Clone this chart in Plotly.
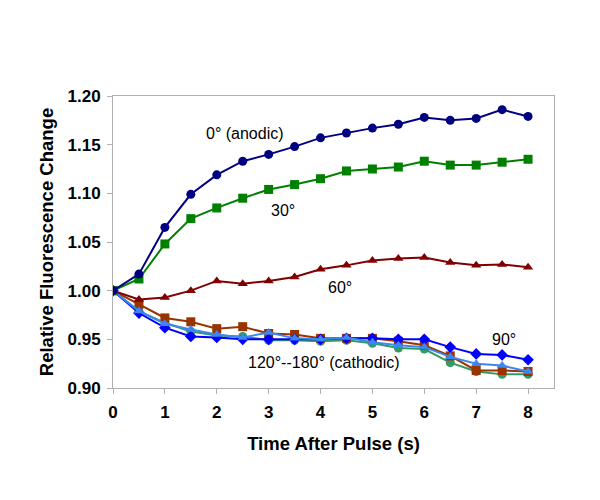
import plotly.graph_objects as go

# temps apres l'impulsion (s)
time_s = [0, 0.5, 1, 1.5, 2, 2.5, 3, 3.5, 4, 4.5, 5, 5.5, 6, 6.5, 7, 7.5, 8]

# fluorescence relative par angle
deg0 = [1.000, 1.017, 1.065, 1.099, 1.119, 1.133, 1.140, 1.148, 1.157, 1.162,
        1.167, 1.171, 1.178, 1.175, 1.177, 1.186, 1.179]
deg30 = [1.000, 1.012, 1.048, 1.074, 1.085, 1.095, 1.104, 1.109, 1.115, 1.123,
         1.125, 1.127, 1.133, 1.129, 1.129, 1.132, 1.135]
deg60 = [1.000, 0.991, 0.993, 1.000, 1.010, 1.007, 1.010, 1.014, 1.022, 1.026,
         1.031, 1.033, 1.034, 1.029, 1.026, 1.027, 1.024]
deg90 = [1.000, 0.977, 0.962, 0.953, 0.952, 0.950, 0.950, 0.950, 0.950, 0.951,
         0.951, 0.950, 0.950, 0.942, 0.935, 0.934, 0.929]
deg120 = [1.000, 0.979, 0.966, 0.960, 0.955, 0.952, 0.957, 0.951, 0.950, 0.952,
          0.947, 0.944, 0.942, 0.932, 0.925, 0.923, 0.917]
deg150 = [1.000, 0.986, 0.972, 0.968, 0.961, 0.963, 0.956, 0.955, 0.951, 0.951,
          0.951, 0.948, 0.944, 0.933, 0.918, 0.918, 0.917]
deg180 = [1.000, 0.979, 0.967, 0.958, 0.954, 0.953, 0.949, 0.949, 0.948, 0.949,
          0.946, 0.941, 0.940, 0.926, 0.917, 0.914, 0.914]

FONT = "Arial, Liberation Sans, sans-serif"

# (valeurs, couleur, symbole), dans l'ordre de trace
series = [
    (deg180, "#339966", "circle"),
    (deg150, "#993300", "square"),
    (deg90, "#0000ff", "diamond"),
    (deg120, "#3c86f0", "triangle-up"),
    (deg60, "#800000", "triangle-up"),
    (deg30, "#008000", "square"),
    (deg0, "#000080", "circle"),
]

fig = go.Figure()
for values, color, symbol in series:
    fig.add_trace(go.Scatter(
        x=time_s, y=values, mode="lines+markers",
        line=dict(color=color, width=2),
        marker=dict(color=color, symbol=symbol, size=9),
        showlegend=False,
    ))

# etiquettes des courbes
labels = [
    ("0° (anodic)", 2.55, 1.161),
    ("30°", 3.28, 1.082),
    ("60°", 4.38, 1.003),
    ("90°", 7.54, 0.950),
    ("120°--180° (cathodic)", 4.07, 0.926),
]
for text, x, y in labels:
    fig.add_annotation(x=x, y=y, text=text, showarrow=False,
                       font=dict(family=FONT, size=16, color="black"))

axis_style = dict(
    showline=True, mirror=True, linecolor="#b0b0b0", linewidth=1,
    ticks="outside", tickcolor="#b0b0b0", ticklen=5,
    showgrid=False, zeroline=False,
    tickfont=dict(family=FONT, size=17, color="black", weight="bold"),
)

# marges compensees pour la marge de 8px du body html
fig.update_layout(
    width=600, height=500,
    paper_bgcolor="white", plot_bgcolor="white",
    margin=dict(l=105, r=54, t=88, b=120),
    xaxis=dict(range=[0, 8.5], tickvals=list(range(9)),
               ticklabelstandoff=4,
               title=dict(text="Time After Pulse (s)", standoff=15,
                          font=dict(family=FONT, size=18.5, color="black", weight="bold")),
               **axis_style),
    yaxis=dict(range=[0.9, 1.2], dtick=0.05, tickformat=".2f",
               ticklabelstandoff=3,
               title=dict(text="Relative Fluorescence Change", standoff=9,
                          font=dict(family=FONT, size=18.5, color="black", weight="bold")),
               **axis_style),
)

fig.write_html("out.html")
